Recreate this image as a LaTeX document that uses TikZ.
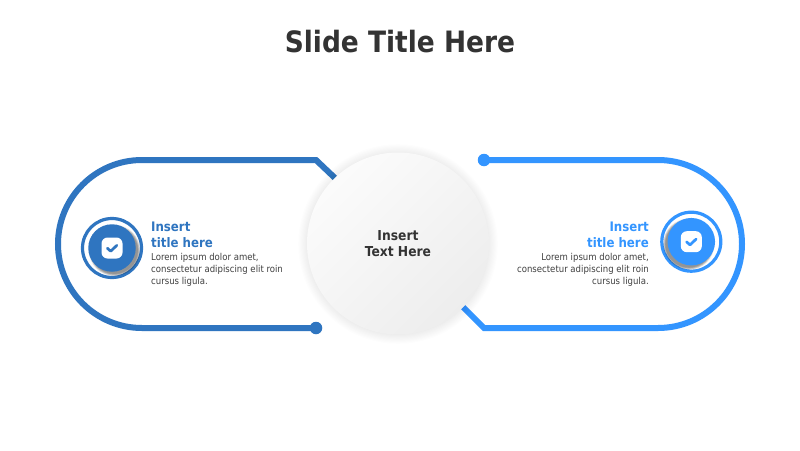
\documentclass[tikz,border=0pt]{standalone}
\usepackage{fontspec}
\setmainfont{DejaVu Sans Condensed}[BoldFont={DejaVu Sans Condensed Bold}]
\usetikzlibrary{calc}
\definecolor{dk}{HTML}{2F75C0}
\definecolor{lt}{HTML}{3395FF}
\definecolor{ink}{HTML}{333333}
\definecolor{bodyink}{HTML}{404040}
\tikzset{
 x=1pt,y=-1pt,
 band/.style={line width=6pt,line join=miter},
 dot/.style={circle,minimum size=12.5pt,inner sep=0pt},
 ttl/.style={font=\bfseries\fontsize{13.1}{16}\selectfont,inner sep=0pt,align=#1},
 txt/.style={font=\fontsize{9.5}{12}\selectfont,text=bodyink,inner sep=0pt,align=#1},
 ringc/.style={circle,line width=3.2pt,minimum size=59pt,inner sep=0pt,fill=white},
 core/.style={circle,minimum size=47.5pt,inner sep=0pt},
 sq/.style={rounded corners=6pt,fill=white,minimum size=21pt,inner sep=0pt},
 chk/.style={line width=2.7pt,line cap=round,line join=round},
}
\newcommand{\icon}[5]{% name x y colour shadow dx
 \node[ringc,draw=#4] (#1ring) at (#2,#3) {};
 \foreach \k in {0,...,4}{
  \fill[black,opacity=0.1] ({#2+#5*2.5},{#3+2.5}) circle ({23.4+\k*0.55});
 }
 \node[core,fill=#4] (#1core) at (#2,#3) {};
 \node[sq] (#1sq) at (#2,#3) {};
 \draw[chk,#4] ($(#1sq.center)+(-4.7,0.2)$) -- ($(#1sq.center)+(-1.3,3.2)$) -- ($(#1sq.center)+(4.8,-2.6)$);
}
\begin{document}
\begin{tikzpicture}
\useasboundingbox (0,0) rectangle (800,450);
\fill[white] (0,0) rectangle (800,450);
\node[font=\bfseries\fontsize{29.4}{36}\selectfont,text=ink,inner sep=0pt] (title) at (400,42) {Slide Title Here};

% left band
\coordinate (la) at (336,179);
\coordinate (lb) at (316,160);
\node[dot,fill=dk] (ld) at (316,328) {};
\draw[band,dk] (la) -- (lb) -- (142,160) arc[start angle=-90,end angle=-270,radius=84] -- (ld.center);
% right band
\coordinate (ra) at (463,307);
\coordinate (rb) at (484,328);
\node[dot,fill=lt] (rd) at (484,160) {};
\draw[band,lt] (ra) -- (rb) -- (658,328) arc[start angle=90,end angle=-90,radius=84] -- (rd.center);

% central circle
\foreach \k in {0,...,8}{
 \fill[black,opacity=0.006] (398,244) circle ({91+\k*1.1});
}
\node[circle,minimum size=182pt,inner sep=0pt,shade,shading=axis,top color=white!98.5!black,bottom color=white!93!black,shading angle=45] (mid) at (398,243.5) {};
\node[font=\bfseries\fontsize{13.7}{16}\selectfont,text=ink,align=center,inner sep=0pt] (midt) at (398,243.5) {Insert\\Text Here};

% icons
\icon{l}{112}{248}{dk}{1}
\icon{r}{691.3}{241.7}{lt}{-1}

% left text
\node[ttl=left,text=dk,anchor=north west] (lt1) at (151,222) {Insert\\title here};
\node[txt=left,anchor=north west] (lb1) at (151,253.5) {Lorem ipsum dolor amet,\\consectetur adipiscing elit roin\\cursus ligula.};
% right text
\node[ttl=right,text=lt,anchor=north east] (rt1) at (649,222) {Insert\\title here};
\node[txt=right,anchor=north east] (rb1) at (649,253.5) {Lorem ipsum dolor amet,\\consectetur adipiscing elit roin\\cursus ligula.};
\end{tikzpicture}
\end{document}
